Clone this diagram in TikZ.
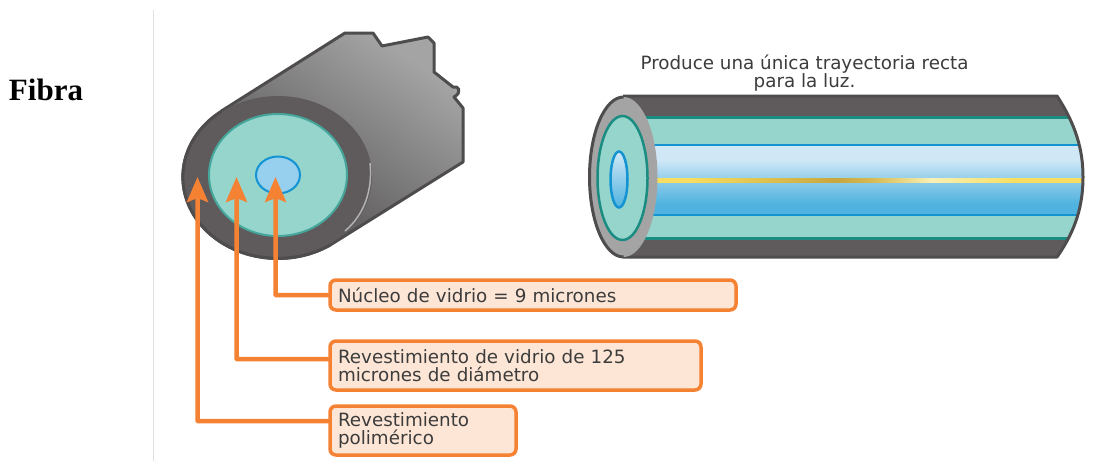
\documentclass[tikz,border=0pt]{standalone}
\usepackage{fontspec}
\setmainfont{DejaVu Sans}
\newfontfamily\serifbold{Liberation Serif}[BoldFont={Liberation Serif Bold}]
\usetikzlibrary{arrows.meta}
\definecolor{orangeline}{HTML}{F58233}
\definecolor{orangefill}{HTML}{FDE6D6}
\definecolor{inkgray}{HTML}{3C3C3C}
\definecolor{jacket}{HTML}{5F5B5C}
\definecolor{edge}{HTML}{4E4C4D}
\definecolor{cladfill}{HTML}{96D5CC}
\definecolor{cladline}{HTML}{1A8C82}
\definecolor{coreline}{HTML}{1493D2}
\definecolor{facegray}{HTML}{A5A4A5}
\definecolor{bodymid}{HTML}{8C8A8B}
\definecolor{bodylow}{HTML}{3F3D3E}
\definecolor{cba}{HTML}{50B2DF}
\definecolor{cbb}{HTML}{8FCCE9}
\definecolor{cbc}{HTML}{D0E8F6}
\definecolor{goa}{HTML}{F7DE60}
\definecolor{gob}{HTML}{C9A63E}
\definecolor{goc}{HTML}{D8BC55}
\definecolor{god}{HTML}{F8F0B5}
\definecolor{leftcore}{HTML}{96D0EE}
\pgfdeclareverticalshading{coreshade}{100bp}{
 color(0bp)=(cba); color(33bp)=(cba);
 color(50bp)=(cbb); color(65bp)=(cbc); color(100bp)=(cbc)}
\pgfdeclarehorizontalshading{goldshade}{100bp}{
 color(0bp)=(goa); color(32bp)=(goa); color(48bp)=(gob);
 color(52bp)=(goc); color(58bp)=(god); color(67bp)=(goa); color(100bp)=(goa)}
\tikzset{
 x=1pt,y=-1pt,
 boxnode/.style={draw=orangeline,fill=orangefill,line width=3.5pt,rounded corners=6pt,anchor=north west,
   outer sep=0pt,inner xsep=8pt,inner ysep=0pt,align=left,text=inkgray,
   font=\fontsize{18.3}{18.5}\selectfont},
 conn/.style={draw=orangeline,line width=4.5pt,rounded corners=0.5pt,-{Stealth[width=21pt,length=25pt,inset=4pt]}},
 caption/.style={align=center,text=inkgray,font=\fontsize{18.3}{18.5}\selectfont},
 title/.style={font=\fontsize{31}{34}\serifbold\bfseries,text=black},
 divider/.style={draw=black!12,line width=1pt},
 outline/.style={draw=edge,line width=3pt,line join=round},
}
\begin{document}
\begin{tikzpicture}
\useasboundingbox (0,0) rectangle (1103,461);
\fill[white] (0,0) rectangle (1103,461);
\node[title] (fibra) at (46,90) {Fibra};
\coordinate (divtop) at (153,10);
\coordinate (divbot) at (153,461);
\draw[divider] (divtop) -- (divbot);

% left cylinder
\path[outline,top color=facegray,middle color=bodymid,bottom color=bodylow,shading angle=-35]
 (221.4,111) -- (345,33) -- (373,33) -- (382,46) -- (428,37) -- (434,43) -- (434,72)
 -- (453,87) .. controls (458,85) and (463,92) .. (454,97) -- (463,108) -- (463,162)
 -- (331,244.5) arc [start angle=56,delta angle=177.4,x radius=95,y radius=81.5] -- cycle;
\fill[jacket] (278,176.5) ellipse [x radius=94,y radius=80.5];
\draw[edge,line width=3pt] (331,244.5) arc [start angle=56,delta angle=177.4,x radius=95,y radius=81.5];
\draw[facegray!85!white,line width=1.5pt] (370,163) .. controls (373,190) and (364,215) .. (345,231);
\draw[fill=cladfill,draw=cladline!65!cladfill,line width=2pt] (278,175) ellipse [x radius=69,y radius=61];
\draw[fill=leftcore,draw=coreline,line width=2pt] (278,175) ellipse [x radius=22,y radius=18.5];

% right cylinder
\begin{scope}
\clip (623,95) -- (1057,95) .. controls (1076,125) and (1083,150) .. (1083,177) .. controls (1083,205) and (1076,230) .. (1057,258) -- (623,258) -- cycle;
\fill[jacket] (623,95) rectangle (1090,258);
\fill[cladfill] (623,118) rectangle (1090,238);
\shade[shading=coreshade] (623,146) rectangle (1090,215);
\draw[cladline,line width=3pt] (623,117) -- (1090,117);
\draw[cladline,line width=3pt] (623,238) -- (1090,238);
\draw[coreline,line width=2.5pt] (623,145) -- (1090,145);
\draw[coreline,line width=2.5pt] (623,215) -- (1090,215);
\shade[shading=goldshade] (623,178) rectangle (1090,182.5);
\end{scope}
\draw[outline] (623,96) -- (1057,96) .. controls (1076,125) and (1083,150) .. (1083,177) .. controls (1083,205) and (1076,230) .. (1057,257) -- (623,257);
\fill[facegray] (623.5,177) ellipse [x radius=34,y radius=80];
\draw[edge,line width=3pt] (623.5,97) arc [start angle=270,delta angle=-180,x radius=34,y radius=80];
\draw[cladline,fill=cladfill,line width=2.5pt] (622.5,178) ellipse [x radius=25,y radius=62];
\shade[top color=cbc,bottom color=cba] (619,179.5) ellipse [x radius=8,y radius=27.5];
\draw[coreline,line width=2.5pt] (619,179.5) ellipse [x radius=8.5,y radius=28];

\node[caption] (cap) at (804.5,73) {Produce una única trayectoria recta\\para la luz.};

% labels
\node[boxnode,minimum width=406pt,minimum height=30pt,text width=390pt] (b1) at (330,280) {Núcleo de vidrio = 9 micrones};
\node[boxnode,minimum width=371pt,minimum height=49pt,text width=355pt] (b2) at (330,341) {Revestimiento de vidrio de 125\\micrones de diámetro};
\node[boxnode,minimum width=186pt,minimum height=49pt,text width=170pt] (b3) at (330,406) {Revestimiento\\polimérico};

\coordinate (t1) at (275.5,177);
\coordinate (t2) at (236.5,177);
\coordinate (t3) at (197.5,177);
\coordinate (a2) at (330,359);
\coordinate (a3) at (330,421);
\draw[conn] (b1.west) -| (t1);
\draw[conn] (b2.west |- a2) -| (t2);
\draw[conn] (b3.west |- a3) -| (t3);
\end{tikzpicture}
\end{document}
